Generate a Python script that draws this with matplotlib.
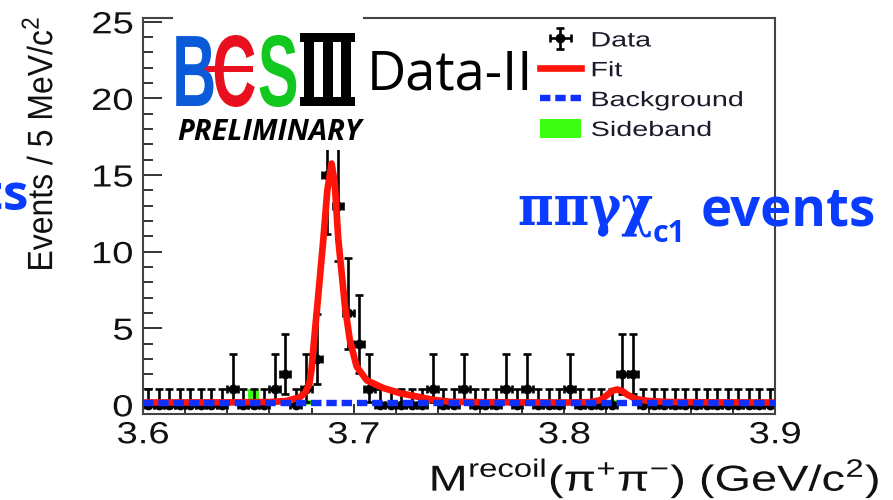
import numpy as np
import matplotlib
matplotlib.use('Agg')
import matplotlib.pyplot as plt
from matplotlib.patches import Rectangle
from matplotlib.patheffects import AbstractPathEffect
from matplotlib.transforms import Affine2D

plt.rcParams['font.family'] = ['Liberation Sans', 'DejaVu Sans']
plt.rcParams['lines.scale_dashes'] = False

# recoil mass spectrum, 5 MeV bins from 3.6 to 3.9 GeV
bin_lo, bin_hi, n_bins = 3.6, 3.9, 60
counts = [0, 0, 0, 0, 0, 0, 0, 0, 1, 0,
          0, 0, 1, 2, 0, 1, 3, 15, 13, 6,
          4, 1, 0, 0, 0, 0, 0, 1, 0, 0,
          1, 0, 0, 0, 1, 0, 1, 0, 0, 0,
          1, 0, 0, 0, 0, 2, 2, 0, 0, 0,
          0, 0, 0, 0, 0, 0, 0, 0, 0, 0]
sideband = [0, 0, 0, 0, 0.33, 0, 0, 0, 0, 0,
            1.0, 0, 0, 0, 0, 0.33, 0, 0, 0, 0,
            0, 0, 0, 0, 0, 0, 0, 0, 0, 0,
            0, 0, 0, 0, 0, 0, 0, 0, 0, 0,
            0, 0, 0, 0, 0.33, 0, 0, 0, 0, 0,
            0, 0, 0, 0, 0, 0, 0, 0, 0, 0]
# poisson errors per count
err_lo = {0: 0.0, 1: 0.83, 2: 1.29, 3: 1.63, 4: 1.91, 6: 2.38, 13: 3.6, 15: 3.87}
err_hi = {0: 1.0, 1: 2.3, 2: 2.64, 3: 2.92, 4: 3.16, 6: 3.58, 13: 4.7, 15: 4.96}

fit_mass = [3.600, 3.640, 3.660, 3.668, 3.6745, 3.677, 3.679, 3.680, 3.6812,
            3.6827, 3.6856, 3.6875, 3.6895, 3.691, 3.6927, 3.6959, 3.6982,
            3.7014, 3.7062, 3.714, 3.722, 3.730, 3.7376, 3.7457, 3.760, 3.800,
            3.812, 3.817, 3.820, 3.8225, 3.825, 3.8275, 3.830, 3.834, 3.840,
            3.850, 3.870, 3.900]
fit_vals = [0.15, 0.16, 0.18, 0.25, 0.5, 0.8, 1.4, 2.3, 4.2,
            6.4, 10.8, 14.0, 15.75, 14.5, 10.8, 6.4, 4.2,
            2.5, 1.6, 1.1, 0.76, 0.54, 0.33, 0.2, 0.17, 0.15,
            0.17, 0.3, 0.6, 0.9, 1.0, 0.9, 0.65, 0.38, 0.25,
            0.18, 0.16, 0.15]
bkg_mass = [3.6, 3.9]
bkg_vals = [0.12, 0.12]

x_ticks = [3.6, 3.7, 3.8, 3.9]
y_ticks = [0, 5, 10, 15, 20, 25]

BLUE_TXT = '#0a3cff'


class Stretch(AbstractPathEffect):
    """Scale glyphs: x around the left/centre/right of the ink, y around the baseline."""

    def __init__(self, sx=1.0, sy=1.0, anchor='center'):
        super().__init__()
        self.sx = sx
        self.sy = sy
        self.anchor = anchor

    def draw_path(self, renderer, gc, tpath, affine, rgbFace=None):
        bb = tpath.get_extents(affine)
        ox = {'left': bb.x0, 'right': bb.x1}.get(self.anchor, 0.5 * (bb.x0 + bb.x1))
        oy = affine.transform((0, 0))[1]
        sq = Affine2D().translate(-ox, -oy).scale(self.sx, self.sy).translate(ox, oy)
        renderer.draw_path(gc, tpath, affine + sq, rgbFace)


edges = np.linspace(bin_lo, bin_hi, n_bins + 1)
centers = 0.5 * (edges[:-1] + edges[1:])
half = 0.5 * (edges[1] - edges[0])
lo = [err_lo[c] for c in counts]
hi = [err_hi[c] for c in counts]

fig = plt.figure(figsize=(8.93, 5), dpi=100)
ax = fig.add_axes([143 / 893, 1 - 414 / 500, 632 / 893, 396 / 500])

sb = ax.stairs(sideband, edges, fill=True, color='#3cff14', lw=0, zorder=1, label='Sideband')
data = ax.errorbar(centers, counts, yerr=[lo, hi], xerr=half, fmt='o', ms=6,
                   color='black', elinewidth=1.9, capsize=3, capthick=1.9,
                   zorder=2, label='Data')
fit, = ax.plot(fit_mass, fit_vals, color='#ff140a', lw=4.8, zorder=3,
               solid_joinstyle='round', label='Fit')
bkg, = ax.plot(bkg_mass, bkg_vals, color='#1030ff', lw=4.6, dashes=(7.5, 3.5),
               zorder=4, label='Background')

ax.set_xlim(bin_lo, bin_hi)
ax.set_ylim(-0.6, 25.25)
ax.set_xticks(x_ticks)
ax.set_xticks(np.arange(3.62, 3.9, 0.02), minor=True)
ax.set_yticks(y_ticks)
ax.set_yticks(np.arange(0, 26, 1), minor=True)
ax.tick_params(which='both', direction='in', top=False, right=False,
               color='#333333', width=1.4, labelsize=22, labelcolor='#111111')
ax.tick_params(axis='y', which='major', length=14, pad=7)
ax.tick_params(axis='y', which='minor', length=7)
ax.tick_params(axis='x', which='major', length=7, pad=4.5)
ax.tick_params(axis='x', which='minor', length=4)
ax.set_xticklabels(['3.6', '3.7', '3.8', '3.9'])
for sp in ax.spines.values():
    sp.set_color('#444444')
    sp.set_linewidth(1.5)
for t in ax.get_xticklabels():
    t.set_path_effects([Stretch(1.25, 1.0, 'center')])
for t in ax.get_yticklabels():
    t.set_path_effects([Stretch(1.25, 1.0, 'right')])

ax.set_xlabel(r'M$^{\mathregular{recoil}}$(π$^{\mathregular{+}}$π$^{\mathregular{-}}$) (GeV/c$^{\mathregular{2}}$)',
              fontsize=26, loc='right', color='#111111')
ax.xaxis.set_label_coords((880 - 143) / 632, -(456 - 414) / 396)
ax.xaxis.label.set_path_effects([Stretch(1.3, 1.0, 'right')])
ax.set_ylabel(r'Events / 5 MeV/c$^{\mathregular{2}}$', fontsize=23, loc='top', color='#111111')
ax.yaxis.set_label_coords((58 - 143) / 632, 1 - (16 - 18) / 396)
ax.yaxis.label.set_path_effects([Stretch(1.1, 1.0, 'center')])

leg = ax.legend(handles=[data, fit, bkg, sb], loc='upper left',
                bbox_to_anchor=((540 - 143) / 632, 1 - (30 - 18) / 396),
                frameon=False, fontsize=15, handlelength=1.95, handleheight=1.0,
                handletextpad=0.5, labelspacing=0.45, borderaxespad=0, borderpad=0)
for t in leg.get_texts():
    t.set_color('#1a1a2a')
    t.set_path_effects([Stretch(1.38, 1.0, 'left')])

# slide overlay in pixel coordinates
ov = fig.add_axes([0, 0, 1, 1], zorder=5)
ov.set_xlim(0, 893)
ov.set_ylim(500, 0)
ov.axis('off')

ov.add_patch(Rectangle((173, 10), 190, 140, fc='white', ec='none'))
tall = [Stretch(1.1, 1.83, 'left')]
for x0, letter, colour in [(172.5, 'B', '#0b5bd9'), (212.5, 'C', '#e8101e'), (258, 'S', '#12c81e')]:
    ov.text(x0, 106, letter, color=colour, fontsize=40, fontweight='bold',
            va='baseline', path_effects=tall)
ov.add_patch(Rectangle((177, 66), 76, 6, fc='#e8101e', ec='none'))
for x0, y0, w, h in [(300, 33, 55, 9), (300, 97, 55, 9),
                     (304, 33, 10, 73), (322.5, 33, 10, 73), (341, 33, 10, 73)]:
    ov.add_patch(Rectangle((x0, y0), w, h, fc='black', ec='none'))
ov.text(177, 140, 'PRELIMINARY', family='Open Sans', fontweight='bold',
        style='italic', fontsize=21, va='baseline', color='black')
ov.text(367, 89, 'Data-II', family='Open Sans', fontsize=39, va='baseline', color='black')

ov.text(29, 210, 'events', color=BLUE_TXT, family='Open Sans', fontweight='bold',
        fontsize=37, ha='right', va='baseline')
ov.text(518, 225, 'ππγχ', color=BLUE_TXT, family='DejaVu Serif', fontweight='bold',
        fontsize=35, va='baseline', path_effects=[Stretch(1.0, 1.15, 'left')])
ov.text(653, 242, 'c1', color=BLUE_TXT, family='Open Sans', fontweight='bold',
        fontsize=22, va='baseline')
ov.text(701, 225, 'events', color=BLUE_TXT, family='Open Sans', fontweight='bold',
        fontsize=38, va='baseline')

fig.savefig('out.png', dpi=100)
